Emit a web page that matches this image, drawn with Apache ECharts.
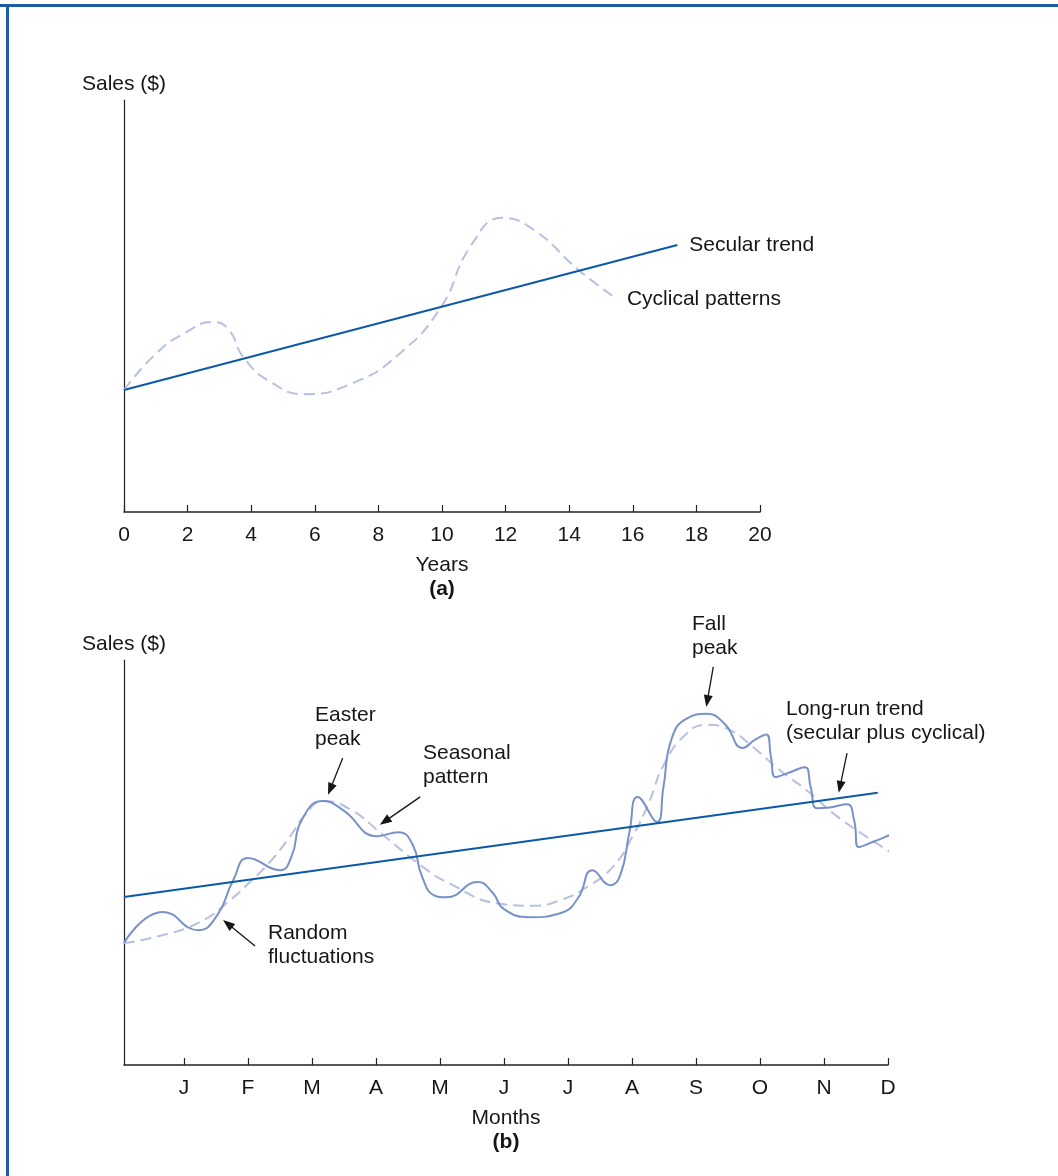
<!DOCTYPE html>
<html>
<head>
<meta charset="utf-8">
<title>Sales patterns over time</title>
<script src="https://cdn.jsdelivr.net/npm/echarts@6/dist/echarts.min.js"></script>
<style>
  html, body { margin: 0; padding: 0; background: #ffffff; }
  #chart { width: 1058px; height: 1176px; }
</style>
</head>
<body>
<div id="chart"></div>
<script>
// ---- Panel (a): long-term sales over years ----
const trendYears = [0, 17.4];
const trendSales = [29.6, 64.8];
const cycleYears = [0, 1.0, 1.9, 2.8, 3.3, 3.75, 4.6, 5.7, 7.2, 8.6, 9.95, 10.9, 11.9, 12.9, 14.3, 15.5];
const cycleSales = [29.6, 38.4, 43.4, 46.1, 44.2, 37.6, 31.6, 28.6, 31.3, 38.0, 49.5, 64.5, 71.4, 68.4, 58.7, 51.7];

// ---- Panel (b): sales within one year, by month ----
const monthLabels = ['J', 'F', 'M', 'A', 'M', 'J', 'J', 'A', 'S', 'O', 'N', 'D'];
const monthTicks = [1, 2, 3, 4, 5, 6, 7, 8, 9, 10, 11, 12];
const longRunMonths = [0.0625, 11.84];
const longRunSales = [41.5, 67.2];
const seasonalMonths = [0.06, 0.625, 1.25, 1.72, 2.03, 2.34, 2.66, 2.89, 3.17, 3.59, 4.11, 4.69, 5.16, 5.94, 6.45, 6.88, 7.30, 7.70, 8.02, 8.28, 8.48, 8.83, 9.17, 9.53, 9.89, 10.31, 10.78, 11.14, 11.67, 12.19];
const seasonalSales = [30.1, 31.9, 35.3, 40.7, 45.2, 50.1, 56.5, 61.7, 65.2, 63.2, 56.8, 49.4, 44.7, 39.8, 39.3, 40.7, 44.0, 48.9, 56.8, 65.4, 73.6, 81.5, 84.0, 82.7, 78.5, 72.8, 67.2, 62.2, 56.3, 51.1];
const actualMonths = [0.06, 0.67, 1.22, 1.52, 1.77, 2.0, 2.5, 2.68, 2.84, 3.17, 3.48, 4.02, 4.35, 4.57, 4.72, 4.92, 5.10, 5.59, 5.82, 6.00, 6.41, 6.90, 7.16, 7.38, 7.66, 7.82, 7.96, 8.09, 8.39, 8.49, 8.62, 8.86, 9.17, 9.45, 9.73, 9.92, 10.10, 10.17, 10.24, 10.47, 10.70, 10.79, 10.89, 11.09, 11.36, 11.47, 11.54, 11.80, 12.04, 12.09];
const actualSales = [30.1, 37.8, 33.3, 37.0, 45.7, 51.1, 48.1, 51.5, 60.5, 65.2, 63.0, 56.5, 57.5, 54.5, 46.5, 41.8, 41.4, 45.2, 42.6, 38.5, 36.5, 37.6, 41.3, 48.1, 44.4, 47.0, 57.5, 66.2, 60.0, 68.5, 80.6, 85.6, 86.7, 84.2, 78.3, 80.3, 81.6, 76.2, 71.1, 72.3, 73.5, 68.8, 63.4, 63.6, 64.4, 60.5, 53.8, 55.3, 56.8, 47.7];

const pairs = (xs, ys) => xs.map((x, i) => [x, ys[i]]);

const FONT = "'Liberation Sans', Arial, Helvetica, sans-serif";
const INK = '#161616';
const TREND_BLUE = '#0b5aa6';
const CYCLE_BLUE = '#b6c1e2';
const ACTUAL_BLUE = '#7891cb';
const FRAME_BLUE = '#1d5ca7';

const baseText = { fontFamily: FONT, fontSize: 21, color: INK };

function xAxisCommon() {
  return {
    type: 'value',
    axisLine: { show: true, lineStyle: { color: '#222', width: 1.5 } },
    axisTick: { show: true, inside: true, length: 7, lineStyle: { color: '#222', width: 1.2 } },
    axisLabel: Object.assign({ margin: 13 }, baseText),
    splitLine: { show: false },
    nameLocation: 'middle',
    nameGap: 41,
    nameTextStyle: Object.assign({ lineHeight: 24 }, baseText, {
      rich: {
        n: Object.assign({ lineHeight: 24 }, baseText),
        b: Object.assign({ lineHeight: 24 }, baseText, { fontWeight: 'bold' })
      }
    })
  };
}

function yAxisCommon() {
  return {
    type: 'value',
    min: 0,
    max: 100,
    name: 'Sales ($)',
    nameLocation: 'end',
    nameGap: 5,
    nameTextStyle: baseText,
    axisLine: { show: true, lineStyle: { color: '#222', width: 1.2 } },
    axisTick: { show: false },
    axisLabel: { show: false },
    splitLine: { show: false }
  };
}

// Arrows pointing from each annotation to the feature it names (panel b, data units: [from, to])
const annotationArrows = [
  [[3.48, 75.8], [3.25, 66.7]],
  [[4.69, 66.2], [4.06, 59.3]],
  [[2.11, 29.4], [1.61, 35.8]],
  [[9.27, 98.3], [9.16, 88.4]],
  [[11.36, 77.0], [11.23, 67.2]]
];

const annotationText = (x, y, text) => ({
  type: 'text',
  left: x,
  top: y,
  silent: true,
  style: {
    text: text,
    font: '21px ' + FONT,
    fill: INK,
    lineHeight: 24
  }
});

const option = {
  animation: false,
  backgroundColor: '#ffffff',
  grid: [
    { left: 124, top: 100, width: 636, height: 412 },
    { left: 124, top: 660, width: 764, height: 405 }
  ],
  xAxis: [
    Object.assign(xAxisCommon(), {
      gridIndex: 0,
      min: 0,
      max: 20,
      interval: 2,
      name: '{n|Years}\n{b|(a)}'
    }),
    Object.assign(xAxisCommon(), {
      gridIndex: 1,
      min: 0.0625,
      max: 12,
      name: '{n|Months}\n{b|(b)}',
      axisTick: { show: true, inside: true, length: 7, customValues: monthTicks, lineStyle: { color: '#222', width: 1.2 } },
      axisLabel: Object.assign({ margin: 13, customValues: monthTicks, formatter: v => monthLabels[Math.round(v) - 1] }, baseText)
    })
  ],
  yAxis: [
    Object.assign(yAxisCommon(), { gridIndex: 0 }),
    Object.assign(yAxisCommon(), { gridIndex: 1 })
  ],
  series: [
    {
      name: 'Cyclical patterns',
      type: 'line',
      xAxisIndex: 0, yAxisIndex: 0,
      data: pairs(cycleYears, cycleSales),
      smooth: 0.5,
      showSymbol: false,
      lineStyle: { color: CYCLE_BLUE, width: 2, type: [11, 6] },
      endLabel: { show: true, formatter: 'Cyclical patterns', distance: 10, ...baseText },
      silent: true
    },
    {
      name: 'Secular trend',
      type: 'line',
      xAxisIndex: 0, yAxisIndex: 0,
      data: pairs(trendYears, trendSales),
      showSymbol: false,
      lineStyle: { color: TREND_BLUE, width: 2 },
      endLabel: { show: true, formatter: 'Secular trend', distance: 12, ...baseText },
      silent: true
    },
    {
      name: 'Seasonal pattern',
      type: 'line',
      xAxisIndex: 1, yAxisIndex: 1,
      data: pairs(seasonalMonths, seasonalSales),
      smooth: 0.5,
      clip: false,
      showSymbol: false,
      lineStyle: { color: CYCLE_BLUE, width: 2, type: [11, 6] },
      silent: true
    },
    {
      name: 'Actual sales',
      type: 'line',
      xAxisIndex: 1, yAxisIndex: 1,
      data: pairs(actualMonths, actualSales),
      smooth: 0.5,
      clip: false,
      showSymbol: false,
      lineStyle: { color: ACTUAL_BLUE, width: 2 },
      silent: true
    },
    {
      name: 'Long-run trend',
      type: 'line',
      xAxisIndex: 1, yAxisIndex: 1,
      data: pairs(longRunMonths, longRunSales),
      showSymbol: false,
      lineStyle: { color: TREND_BLUE, width: 2 },
      silent: true
    }
  ],
  graphic: [
    // frame rules along the top and left edges
    { type: 'line', silent: true, shape: { x1: 0, y1: 5.5, x2: 1058, y2: 5.5 }, style: { stroke: FRAME_BLUE, lineWidth: 3 } },
    { type: 'line', silent: true, shape: { x1: 7.5, y1: 4, x2: 7.5, y2: 1176 }, style: { stroke: FRAME_BLUE, lineWidth: 3 } },
    annotationText(315, 703, 'Easter\npeak'),
    annotationText(423, 741, 'Seasonal\npattern'),
    annotationText(268, 921, 'Random\nfluctuations'),
    annotationText(692, 612, 'Fall\npeak'),
    annotationText(786, 697, 'Long-run trend\n(secular plus cyclical)')
  ]
};

const chart = echarts.init(document.getElementById('chart'), null, { renderer: 'canvas' });
chart.setOption(option);

// Annotation arrows: placed through panel (b)'s scales, drawn as a shaft plus a filled head
const arrowGraphics = [];
annotationArrows.forEach((arrow, i) => {
  const p0 = chart.convertToPixel({ xAxisIndex: 1, yAxisIndex: 1 }, arrow[0]);
  const p1 = chart.convertToPixel({ xAxisIndex: 1, yAxisIndex: 1 }, arrow[1]);
  const dx = p1[0] - p0[0], dy = p1[1] - p0[1];
  const len = Math.sqrt(dx * dx + dy * dy);
  const ux = dx / len, uy = dy / len;
  const headLen = 12, headHalf = 4.5;
  const bx = p1[0] - ux * headLen, by = p1[1] - uy * headLen;
  arrowGraphics.push({
    type: 'line', id: 'arrowShaft' + i, silent: true,
    shape: { x1: p0[0], y1: p0[1], x2: bx + ux * 2, y2: by + uy * 2 },
    style: { stroke: INK, lineWidth: 1.3 }
  });
  arrowGraphics.push({
    type: 'polygon', id: 'arrowHead' + i, silent: true,
    shape: { points: [[p1[0], p1[1]], [bx - uy * headHalf, by + ux * headHalf], [bx + uy * headHalf, by - ux * headHalf]] },
    style: { fill: INK }
  });
});
chart.setOption({ graphic: arrowGraphics });
</script>
</body>
</html>
